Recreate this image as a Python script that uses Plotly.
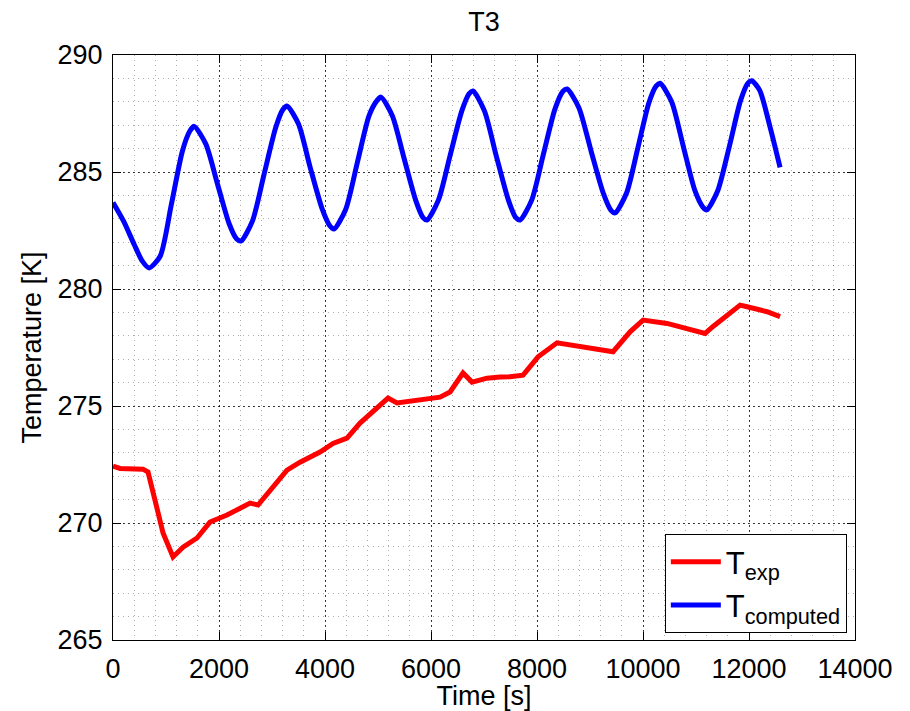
import plotly.graph_objects as go

# Experimental temperature (red)
t_exp = [0, 132, 566, 660, 792, 944, 1132, 1321, 1585, 1698, 1830, 2151, 2396, 2585,
         2736, 3019, 3283, 3529, 3906, 4151, 4415, 4661, 4982, 5189, 5359, 5736, 6170,
         6359, 6604, 6774, 6925, 7057, 7303, 7491, 7737, 8020, 8378, 8869, 9435, 9756,
         10001, 10454, 10831, 11171, 11322, 11832, 11963, 12341, 12586]
T_exp = [272.43, 272.33, 272.3, 272.18, 270.98, 269.57, 268.55, 268.97, 269.36, 269.7,
         270.04, 270.34, 270.64, 270.85, 270.77, 271.54, 272.26, 272.6, 273.03, 273.4,
         273.63, 274.27, 274.96, 275.34, 275.13, 275.26, 275.38, 275.6, 276.41, 276.02,
         276.11, 276.19, 276.24, 276.25, 276.32, 277.1, 277.7, 277.53, 277.32, 278.17,
         278.67, 278.53, 278.32, 278.1, 278.4, 279.31, 279.24, 279.03, 278.82]

# Computed temperature (blue)
t_comp = [0, 200, 400, 550, 680, 890, 1100, 1310, 1450, 1530, 1750, 1970, 2190, 2330, 2415,
          2630, 2850, 3070, 3200, 3283, 3500, 3720, 3950, 4090, 4170,
          4390, 4610, 4830, 4980, 5057, 5270, 5490, 5710, 5850, 5925,
          6140, 6360, 6580, 6720, 6793, 7010, 7230, 7460, 7600, 7680,
          7900, 8120, 8340, 8490, 8567, 8790, 9020, 9250, 9400, 9473,
          9690, 9900, 10110, 10250, 10322, 10540, 10760, 10980, 11130, 11203,
          11410, 11630, 11840, 11980, 12052, 12200, 12400, 12586]
T_comp = [283.7, 282.9, 281.9, 281.2, 280.9, 281.4, 283.6, 285.9, 286.75, 286.95,
          286.2, 284.5, 282.8, 282.15, 282.05,
          282.9, 284.9, 286.9, 287.65, 287.82, 287.05, 285.2, 283.4, 282.7, 282.56,
          283.4, 285.4, 287.4, 288.05, 288.2, 287.4, 285.6, 283.8, 283.05, 282.95,
          283.8, 285.7, 287.6, 288.35, 288.46, 287.6, 285.7, 283.8, 283.05, 282.95,
          283.8, 285.75, 287.7, 288.45, 288.55, 287.75, 285.9, 284.1, 283.35, 283.25,
          284.1, 286.0, 287.95, 288.68, 288.79, 288.0, 286.1, 284.2, 283.5, 283.38,
          284.2, 286.1, 288.05, 288.8, 288.9, 288.5, 286.9, 285.2]

x_ticks = [0, 2000, 4000, 6000, 8000, 10000, 12000, 14000]
y_ticks = [265, 270, 275, 280, 285, 290]

FONT = "Liberation Sans, Arial, Helvetica, sans-serif"

fig = go.Figure()
fig.add_trace(go.Scatter(x=t_exp, y=T_exp, mode="lines", name="T<sub>exp</sub>",
                         line=dict(color="#ff0000", width=5)))
fig.add_trace(go.Scatter(x=t_comp, y=T_comp, mode="lines", name="T<sub>computed</sub>",
                         line=dict(color="#0000ff", width=5, shape="spline", smoothing=0.7)))

axis_common = dict(
    showline=True, linecolor="black", linewidth=1, mirror="ticks",
    ticks="inside", ticklen=8, tickcolor="black", tickwidth=1,
    showgrid=True, gridcolor="rgba(0,0,0,0.75)", griddash="2px,3px", gridwidth=1,
    zeroline=False, automargin=False,
    tickfont=dict(family=FONT, size=27, color="black"),
)

fig.update_xaxes(
    range=[0, 14000], tickvals=x_ticks, ticktext=[str(v) for v in x_ticks],
    minor=dict(dtick=400, tick0=0, showgrid=True, gridcolor="rgba(0,0,0,0.32)",
               griddash="1px,4px", gridwidth=1),
    title=dict(text="Time [s]", font=dict(family=FONT, size=27, color="black"), standoff=2),
    ticklabelstandoff=5,
    **axis_common,
)
fig.update_yaxes(
    range=[265, 290], tickvals=y_ticks, ticktext=[str(v) for v in y_ticks],
    minor=dict(dtick=1, tick0=265, showgrid=True, gridcolor="rgba(0,0,0,0.32)",
               griddash="1px,4px", gridwidth=1),
    title=dict(text="Temperature [K]", font=dict(family=FONT, size=27, color="black"), standoff=8),
    ticklabelstandoff=4,
    **axis_common,
)

fig.update_layout(
    width=910, height=711,
    margin=dict(l=113, r=55, t=55, b=71),
    paper_bgcolor="white", plot_bgcolor="white",
    title=dict(text="T3", x=0.532, xanchor="center", y=1 - 22 / 711, yanchor="middle",
               yref="container", font=dict(family=FONT, size=27, color="black")),
    legend=dict(x=0.989, xanchor="right", y=0.012, yanchor="bottom",
                bgcolor="white", bordercolor="black", borderwidth=1,
                font=dict(family=FONT, size=31, color="black"),
                itemwidth=50, tracegroupgap=0),
    showlegend=True,
)

fig.write_html("out.html")
